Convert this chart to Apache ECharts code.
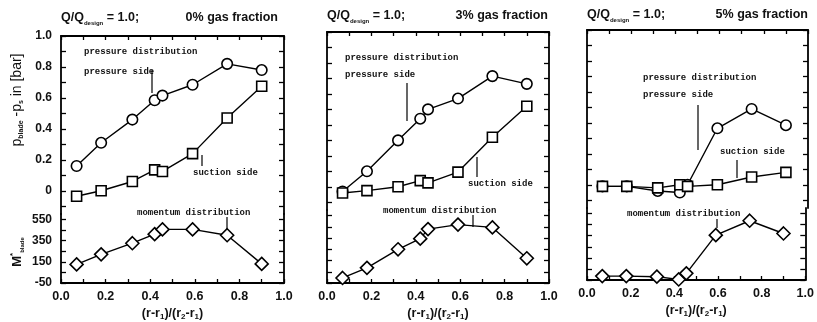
<!DOCTYPE html>
<html><head><meta charset="utf-8">
<script src="https://cdn.jsdelivr.net/npm/echarts@6/dist/echarts.min.js"></script>
<style>html,body{margin:0;padding:0;background:#fff}#c{width:817px;height:322px}</style>
</head><body><div id="c"></div>
<script>
// ---- data ----
const radialPos = [0.07, 0.18, 0.32, 0.42, 0.455, 0.59, 0.745, 0.90];

const pressureSide0 = [0.16, 0.31, 0.46, 0.585, 0.615, 0.685, 0.82, 0.78];
const suctionSide0  = [-0.035, 0.0, 0.06, 0.135, 0.125, 0.24, 0.47, 0.675];
const momentum0     = [125, 220, 325, 410, 455, 455, 400, 130];

const pressureSide3 = [-0.03, 0.10, 0.30, 0.44, 0.50, 0.57, 0.715, 0.665];
const suctionSide3  = [-0.04, -0.025, 0.0, 0.04, 0.025, 0.095, 0.32, 0.52];
const momentum3     = [-5, 85, 250, 345, 430, 470, 445, 170];

const pressureSide5 = [-0.01, -0.01, -0.04, -0.05, 0.0, 0.365, 0.49, 0.385];
const suctionSide5  = [-0.01, -0.01, -0.02, 0.0, -0.01, 0.0, 0.05, 0.08];
const momentum5     = [-15, -15, -20, -45, 10, 355, 485, 370];

const panelTitles = ['0% gas fraction', '3% gas fraction', '5% gas fraction'];
const xTickLabels = [0, 0.2, 0.4, 0.6, 0.8, 1.0];
const xTickMarks  = [0, 0.1, 0.2, 0.3, 0.4, 0.5, 0.6, 0.7, 0.8, 0.9, 1.0];
const pTickLabels = [0, 0.2, 0.4, 0.6, 0.8, 1.0];
const pTickMarks  = [-0.1, 0, 0.1, 0.2, 0.3, 0.4, 0.5, 0.6, 0.7, 0.8, 0.9, 1.0];
const mTickLabels = [-50, 150, 350, 550];
const mTickMarks  = [-50, 50, 150, 250, 350, 450, 550];

const panelData = [
  [pressureSide0, suctionSide0, momentum0],
  [pressureSide3, suctionSide3, momentum3],
  [pressureSide5, suctionSide5, momentum5]
];

// ---- layout ----
const panels = [
  {L: 61, R: 284, T: 36, B: 286, titleR: 278, titleY: 18},
  {L: 327, R: 549, T: 32, B: 284, titleR: 548, titleY: 16},
  {L: 587, R: 808, T: 30, B: 280, titleR: 808, titleY: 15}
];
const topH = 178;
const FONT = 'Liberation Sans, Arial, sans-serif';
const MONO = 'Liberation Mono, Courier New, monospace';
const INK = '#111';

const grid = [], xAxis = [], yAxis = [], series = [];
const axLine = {show: true, onZero: false, lineStyle: {color: '#000', width: 1.8}};
const tick = (vals, len) => ({show: true, inside: true, length: len, customValues: vals,
  lineStyle: {color: '#000', width: 1.3}});

panels.forEach((p, i) => {
  grid.push({left: p.L, top: p.T, width: p.R - p.L, height: topH});
  grid.push({left: p.L, top: p.T + topH, width: p.R - p.L, height: p.B - p.T - topH});

  xAxis.push({
    gridIndex: 2 * i, type: 'value', min: 0, max: 1, position: 'top',
    axisLine: axLine, splitLine: {show: false},
    axisTick: tick(xTickMarks, 4),
    axisLabel: {show: false}
  });
  xAxis.push({
    gridIndex: 2 * i + 1, type: 'value', min: 0, max: 1, position: 'bottom',
    axisLine: axLine, splitLine: {show: false},
    axisTick: tick(xTickMarks, 4),
    axisLabel: {customValues: xTickLabels, formatter: v => v.toFixed(1), color: INK,
      fontFamily: FONT, fontWeight: 'bold', fontSize: 12.5, margin: 7},
    name: '{b|(r-r}{s|1}{b|)/(r}{s|2}{b|-r}{s|1}{b|)}',
    nameLocation: 'middle', nameGap: 24,
    nameTextStyle: {rich: {
      b: {fontFamily: FONT, fontWeight: 'bold', fontSize: 12.5, color: INK, lineHeight: 14},
      s: {fontFamily: FONT, fontWeight: 'bold', fontSize: 8, color: INK, verticalAlign: 'bottom', lineHeight: 8}
    }}
  });

  ['left', 'right'].forEach(pos => {
    yAxis.push({
      gridIndex: 2 * i, type: 'value', min: -0.15, max: 1.0, position: pos,
      axisLine: axLine, splitLine: {show: false},
      axisTick: tick(pTickMarks, 5),
      axisLabel: {show: i === 0 && pos === 'left', customValues: pTickLabels,
        formatter: v => (Math.abs(v) < 1e-9 ? '0' : v.toFixed(1)),
        color: INK, fontFamily: FONT, fontWeight: 'bold', fontSize: 12, margin: 9}
    });
  });
  ['left', 'right'].forEach(pos => {
    yAxis.push({
      gridIndex: 2 * i + 1, type: 'value', min: -50, max: 600, position: pos,
      axisLine: axLine, splitLine: {show: false},
      axisTick: tick(mTickMarks, 5),
      axisLabel: {show: i === 0 && pos === 'left', customValues: mTickLabels,
        color: INK, fontFamily: FONT, fontWeight: 'bold', fontSize: 12, margin: 9}
    });
  });

  const [ps, ss, mo] = panelData[i];
  const mk = (arr) => radialPos.map((x, k) => [x, arr[k]]);
  const common = {
    type: 'line', clip: false, animation: false,
    lineStyle: {color: '#000', width: 1.4},
    itemStyle: {color: '#fff', borderColor: '#000', borderWidth: 1.6},
    showAllSymbol: true
  };
  series.push(Object.assign({}, common, {name: 'pressure side', xAxisIndex: 2 * i, yAxisIndex: 4 * i,
    symbol: 'circle', symbolSize: 10.5, data: mk(ps), z: 3}));
  series.push(Object.assign({}, common, {name: 'suction side', xAxisIndex: 2 * i, yAxisIndex: 4 * i,
    symbol: 'rect', symbolSize: 10, data: mk(ss), z: 4}));
  series.push(Object.assign({}, common, {name: 'momentum', xAxisIndex: 2 * i + 1, yAxisIndex: 4 * i + 2,
    symbol: 'diamond', symbolSize: 13, data: mk(mo), z: 3}));
});

// ---- annotations ----
const graphic = [];
const annTxt = (x, y, t) => graphic.push({type: 'text', x, y, style: {
  text: t, fill: INK, font: 'bold 9px ' + MONO, textVerticalAlign: 'middle'}});
const annLine = (x, y1, y2) => graphic.push({type: 'line', shape: {x1: x, y1, x2: x, y2},
  style: {stroke: '#000', lineWidth: 1.2}});

// panel 1
annTxt(84, 52, 'pressure distribution'); annTxt(84, 72, 'pressure side'); annLine(152, 70, 93);
annTxt(193, 173, 'suction side'); annLine(202, 155, 166);
annTxt(137, 213, 'momentum distribution'); annLine(227, 217, 229);
// panel 2
annTxt(345, 58, 'pressure distribution'); annTxt(345, 75, 'pressure side'); annLine(407, 83, 121);
annTxt(468, 184, 'suction side'); annLine(477, 157, 177);
annTxt(383, 211, 'momentum distribution'); annLine(473, 215, 227);
// panel 3
annTxt(643, 78, 'pressure distribution'); annTxt(643, 95, 'pressure side'); annLine(698, 105, 150);
annTxt(720, 152, 'suction side'); annLine(737, 160, 178);
annTxt(627, 214, 'momentum distribution'); annLine(717, 219, 228);

// titles
panels.forEach((p, i) => {
  graphic.push({type: 'text', x: p.L, y: p.titleY, style: {
    text: '{a|Q/Q}{s|design}{a| = 1.0;}', textVerticalAlign: 'middle',
    rich: {
      a: {fontFamily: FONT, fontSize: 12.5, fontWeight: 'bold', fill: INK, lineHeight: 16},
      s: {fontFamily: FONT, fontSize: 6, fontWeight: 'bold', fill: INK, verticalAlign: 'bottom', lineHeight: 8}
    }}});
  graphic.push({type: 'text', x: p.titleR, y: p.titleY, style: {
    text: panelTitles[i], fill: INK, font: 'bold 12.5px ' + FONT, textAlign: 'right', textVerticalAlign: 'middle'}});
});

// y-axis titles
graphic.push({type: 'text', x: 17, y: 100, rotation: Math.PI / 2, style: {
  text: '{p|p}{s|blade}{p| -p}{s|s}{p| in [bar]}', textAlign: 'center', textVerticalAlign: 'middle',
  rich: {
    p: {fontFamily: FONT, fontSize: 14, fill: INK, lineHeight: 16},
    s: {fontFamily: FONT, fontSize: 7, fontWeight: 'bold', fill: INK, verticalAlign: 'bottom', lineHeight: 8}
  }}});
graphic.push({type: 'text', x: 17, y: 252, rotation: Math.PI / 2, style: {
  text: '{m|M}{t|*}{s|blade}', textAlign: 'center', textVerticalAlign: 'middle',
  rich: {
    m: {fontFamily: FONT, fontSize: 13, fontWeight: 'bold', fill: INK, lineHeight: 16},
    t: {fontFamily: FONT, fontSize: 8, fontWeight: 'bold', fill: INK, verticalAlign: 'top', lineHeight: 8},
    s: {fontFamily: FONT, fontSize: 6, fontWeight: 'bold', fill: INK, verticalAlign: 'bottom', lineHeight: 8}
  }}});

const chart = echarts.init(document.getElementById('c'), null, {renderer: 'canvas'});
chart.setOption({animation: false, backgroundColor: '#fff', grid, xAxis, yAxis, series, graphic});
</script>
</body></html>
